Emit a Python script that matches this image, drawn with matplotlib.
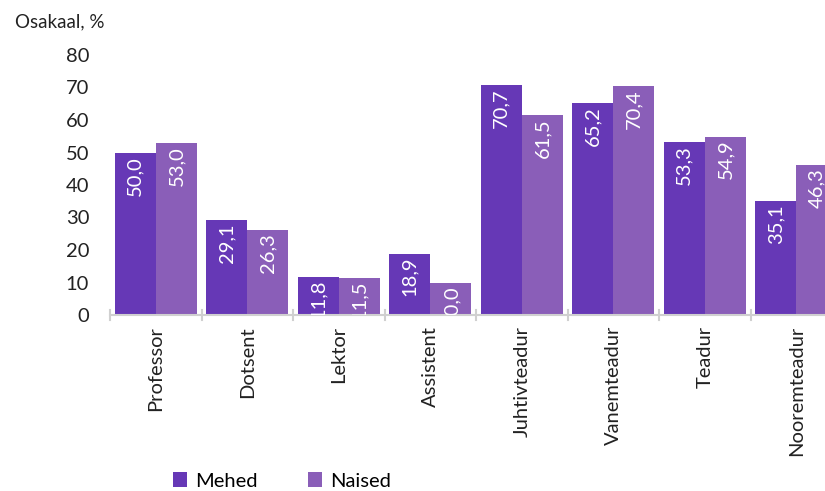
import matplotlib.pyplot as plt
import numpy as np

categories = ['Professor', 'Dotsent', 'Lektor', 'Assistent', 'Juhtivteadur',
              'Vanemteadur', 'Teadur', 'Nooremteadur']
mehed = [50.0, 29.1, 11.8, 18.9, 70.7, 65.2, 53.3, 35.1]
naised = [53.0, 26.3, 11.5, 10.0, 61.5, 70.4, 54.9, 46.3]

plt.rcParams['font.family'] = ['Lato', 'DejaVu Sans']
c_m = '#6638b6'
c_n = '#8a5eb8'

fig = plt.figure(figsize=(8.25, 4.91), dpi=100)
ax = fig.add_axes([110 / 825, 1 - 315 / 491, 732 / 825, 260 / 491])

x = np.arange(len(categories))
w = 0.45
b1 = ax.bar(x - w / 2, mehed, w, color=c_m, label='Mehed')
b2 = ax.bar(x + w / 2, naised, w, color=c_n, label='Naised')

for bars, vals in ((b1, mehed), (b2, naised)):
    for r, v in zip(bars, vals):
        ax.text(r.get_x() + r.get_width() / 2, v - 1.0,
                f'{v:.1f}'.replace('.', ','), rotation=90,
                ha='center', va='top', color='white', fontsize=14.5,
                clip_on=True)

ax.set_xlim(-0.5, len(categories) - 0.5)
ax.set_ylim(0, 80)
ax.set_yticks(range(0, 81, 10))
ax.set_xticks(x)
ax.set_xticklabels(categories, rotation=90, fontsize=14.5, color='#222222')
ax.tick_params(axis='x', length=0, pad=8)
ax.tick_params(axis='y', length=0, labelsize=14.5, labelcolor='#222222', pad=15)

# group separator ticks
for b in np.arange(-0.5, len(categories), 1.0):
    ax.plot([b, b], [-1.5, 1.5], color='#d0d0d0', lw=1.5, clip_on=False)

for s in ['top', 'right', 'left']:
    ax.spines[s].set_visible(False)
ax.spines['bottom'].set_color('#d0d0d0')
ax.spines['bottom'].set_linewidth(1.5)

fig.text(15 / 825, 1 - 22 / 491, 'Osakaal, %', fontsize=13.5, color='#222222',
         va='center')

fig.legend(handles=[b1, b2], labels=['Mehed', 'Naised'], loc='center',
           bbox_to_anchor=(282 / 825, 1 - 481 / 491), ncol=2, frameon=False,
           fontsize=14.5, handlelength=0.7, handleheight=0.7, columnspacing=2.5,
           handletextpad=0.4)

fig.savefig('out.png', dpi=100)
